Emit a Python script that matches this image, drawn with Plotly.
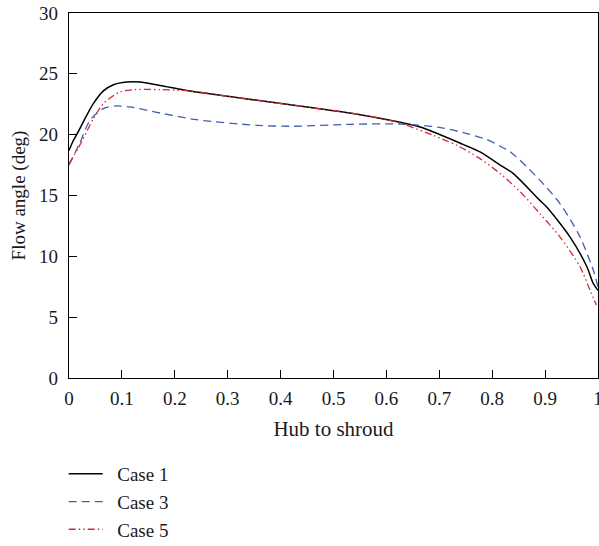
import plotly.graph_objects as go

# ---- data ----
case1_x = [0, 0.008, 0.0145, 0.03, 0.046, 0.065, 0.084, 0.109, 0.134, 0.172, 0.229, 0.3, 0.38, 0.45,
           0.531, 0.607, 0.6635, 0.745, 0.777, 0.815, 0.84, 0.89, 0.903, 0.947, 0.979, 0.991, 1.0]
case1_y = [18.7, 19.5, 20.0, 21.3, 22.55, 23.6, 24.1, 24.33, 24.33, 24.05, 23.59, 23.16, 22.68, 22.27,
           21.78, 21.18, 20.63, 19.2, 18.58, 17.5, 16.8, 14.6, 14.06, 11.6, 9.14, 7.77, 7.2]

case3_x = [0, 0.02, 0.04, 0.065, 0.09, 0.115, 0.172, 0.241, 0.355, 0.418, 0.531, 0.626, 0.70,
           0.752, 0.79, 0.815, 0.837, 0.89, 0.928, 0.966, 0.991, 1.0]
case3_y = [17.5, 19.27, 21.2, 22.14, 22.36, 22.28, 21.78, 21.23, 20.77, 20.69, 20.85, 20.87, 20.6,
           20.09, 19.6, 19.05, 18.5, 16.26, 14.34, 11.6, 8.87, 7.5]

case5_x = [0, 0.02, 0.046, 0.065, 0.096, 0.122, 0.172, 0.229, 0.3, 0.38, 0.45, 0.531, 0.607,
           0.638, 0.688, 0.733, 0.777, 0.815, 0.853, 0.89, 0.928, 0.966, 0.985, 0.997]
case5_y = [17.6, 19.1, 21.3, 22.55, 23.5, 23.7, 23.7, 23.59, 23.16, 22.68, 22.27, 21.78, 21.18,
           20.77, 19.95, 19.13, 18.03, 16.8, 15.3, 13.52, 11.6, 9.14, 7.2, 6.0]

x_ticks = [0, 0.1, 0.2, 0.3, 0.4, 0.5, 0.6, 0.7, 0.8, 0.9, 1]
x_tick_labels = ["0", "0.1", "0.2", "0.3", "0.4", "0.5", "0.6", "0.7", "0.8", "0.9", "1"]
y_ticks = [0, 5, 10, 15, 20, 25, 30]
legend_names = ["\u00a0\u00a0Case 1", "\u00a0\u00a0Case 3", "\u00a0\u00a0Case 5"]

FONT = "Liberation Serif, Times New Roman, serif"
TXT = "#1a1a1a"

fig = go.Figure()
fig.add_trace(go.Scatter(x=case1_x, y=case1_y, mode="lines", name=legend_names[0],
                         line=dict(color="black", width=1.5, shape="spline", smoothing=0.8)))
fig.add_trace(go.Scatter(x=case3_x, y=case3_y, mode="lines", name=legend_names[1],
                         line=dict(color="#3f5fb3", width=1.3, dash="8px,5px", shape="spline", smoothing=0.8)))
fig.add_trace(go.Scatter(x=case5_x, y=case5_y, mode="lines", name=legend_names[2],
                         line=dict(color="#d42a36", width=1.3, dash="7px,3px,1.5px,3px,1.5px,3px",
                                   shape="spline", smoothing=0.8)))

fig.update_layout(
    width=599, height=546,
    margin=dict(l=69, r=1, t=13, b=168, autoexpand=False),
    paper_bgcolor="white", plot_bgcolor="white",
    font=dict(family=FONT, size=19, color=TXT),
    showlegend=True,
    legend=dict(x=-0.01, y=-0.211, xanchor="left", yanchor="top",
                font=dict(family=FONT, size=19, color=TXT),
                bgcolor="rgba(0,0,0,0)", itemwidth=34, tracegroupgap=0),
    xaxis=dict(range=[0, 1], tickmode="array", tickvals=x_ticks, ticktext=x_tick_labels,
               ticks="inside", ticklen=8, tickwidth=1.3, tickcolor="black",
               tickfont=dict(size=19), ticklabelstandoff=3, ticklabeloverflow="allow",
               showline=True, linecolor="black", linewidth=1.3, mirror=True,
               showgrid=False, zeroline=False,
               title=dict(text="Hub to shroud", standoff=13, font=dict(size=21)),
               automargin=False),
    yaxis=dict(range=[0, 30], tickmode="array", tickvals=y_ticks,
               ticks="inside", ticklen=8, tickwidth=1.3, tickcolor="black",
               tickfont=dict(size=19), ticklabelstandoff=6,
               showline=True, linecolor="black", linewidth=1.3, mirror=True,
               showgrid=False, zeroline=False,
               title=dict(text="Flow angle (deg)", standoff=8, font=dict(size=19)),
               automargin=False),
)

fig.write_html("out.html")
